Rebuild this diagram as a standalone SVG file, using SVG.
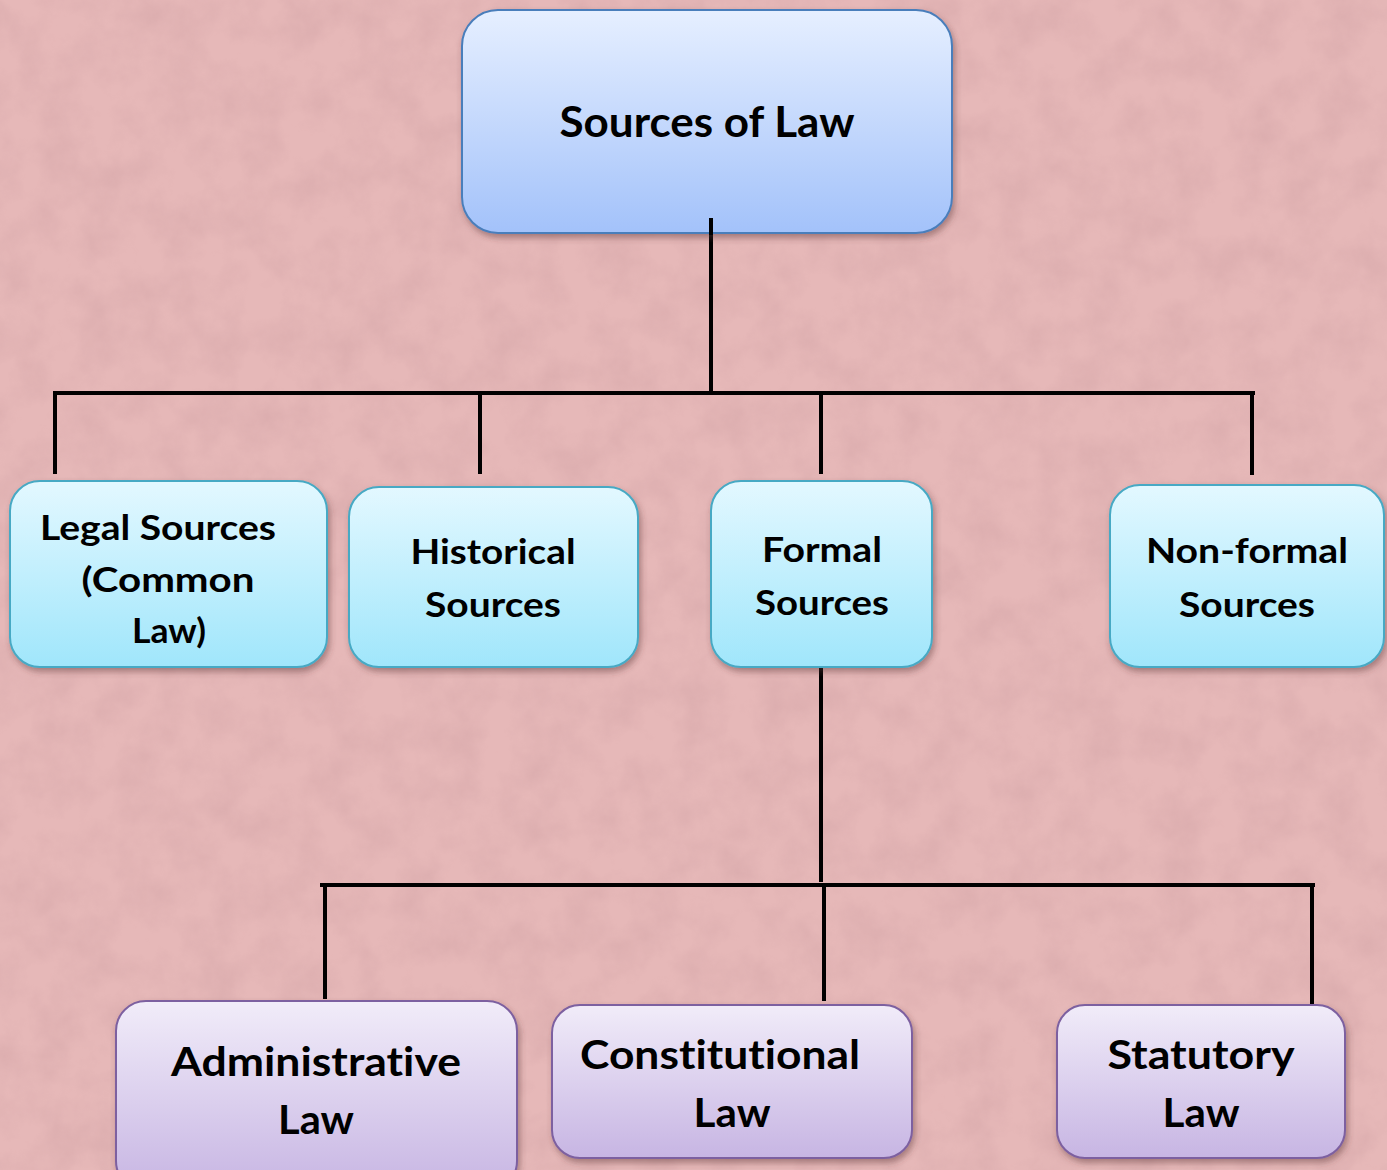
<svg xmlns="http://www.w3.org/2000/svg" width="1387" height="1170" viewBox="0 0 1387 1170">
  <defs>
    <linearGradient id="gTop" x1="0" y1="0" x2="0" y2="1">
      <stop offset="0" stop-color="#e6efff"/>
      <stop offset="1" stop-color="#a3c2fa"/>
    </linearGradient>
    <linearGradient id="gMid" x1="0" y1="0" x2="0" y2="1">
      <stop offset="0" stop-color="#e3f8ff"/>
      <stop offset="1" stop-color="#a0e6fb"/>
    </linearGradient>
    <linearGradient id="gLow" x1="0" y1="0" x2="0" y2="1">
      <stop offset="0" stop-color="#f1ecf9"/>
      <stop offset="1" stop-color="#c7b5e3"/>
    </linearGradient>
    <filter id="shadow" x="-10%" y="-10%" width="125%" height="130%">
      <feDropShadow dx="2" dy="4" stdDeviation="3" flood-color="#5a3030" flood-opacity="0.45"/>
    </filter>
    <!-- mottled paper texture -->
    <filter id="paper" x="0" y="0" width="100%" height="100%">
      <feTurbulence type="fractalNoise" baseFrequency="0.025" numOctaves="5" seed="7" result="n"/>
      <feColorMatrix in="n" type="matrix" values="0 0 0 0 0.55  0 0 0 0 0.3  0 0 0 0 0.32  0 0 0 -1.6 1.05"/>
    </filter>
    <style>
      .conn { stroke: #000; stroke-width: 4; fill: none; stroke-linecap: square; }
      .top { fill: url(#gTop); stroke: #4a7ebb; stroke-width: 2; filter: url(#shadow); }
      .mid { fill: url(#gMid); stroke: #46a9c4; stroke-width: 2; filter: url(#shadow); }
      .low { fill: url(#gLow); stroke: #7d60a0; stroke-width: 2; filter: url(#shadow); }
      text { font-family: Lato, "Open Sans", "Liberation Sans", sans-serif; font-weight: bold; fill: #000; text-anchor: middle; font-variant-ligatures: none; font-feature-settings: "liga" 0, "clig" 0; }
      .t1 { font-size: 42px; }
      .t2 { font-size: 35px; }
      .t3 { font-size: 40px; }
    </style>
  </defs>

  <!-- background -->
  <rect x="0" y="0" width="1387" height="1170" fill="#e6b8b8"/>
  <rect x="0" y="0" width="1387" height="1170" filter="url(#paper)" opacity="0.3"/>

  <!-- connectors -->
  <g id="connectors">
    <path class="conn" d="M711 220 V393"/>
    <path class="conn" d="M55 393 H1253"/>
    <path class="conn" d="M55 393 V472"/>
    <path class="conn" d="M480 393 V472"/>
    <path class="conn" d="M821 393 V472"/>
    <path class="conn" d="M1252 393 V473"/>
    <path class="conn" d="M821 667 V880"/>
    <path class="conn" d="M322 885 H1313"/>
    <path class="conn" d="M325 885 V997"/>
    <path class="conn" d="M824 885 V999"/>
    <path class="conn" d="M1312 885 V1005"/>
  </g>

  <!-- root -->
  <g id="sources-of-law">
    <rect class="top" x="462" y="10" width="490" height="223" rx="36"/>
    <path class="conn" d="M711 220 V233"/>
    <text class="t1" x="707" y="137" textLength="295" lengthAdjust="spacingAndGlyphs">Sources of Law</text>
  </g>

  <!-- second level -->
  <g id="legal-sources">
    <rect class="mid" x="10" y="481" width="317" height="186" rx="30"/>
    <text class="t2" x="158" y="540" textLength="236" lengthAdjust="spacingAndGlyphs">Legal Sources</text>
    <text class="t2" x="168" y="592" textLength="173" lengthAdjust="spacingAndGlyphs">(Common</text>
    <text class="t2" x="169" y="643" textLength="74" lengthAdjust="spacingAndGlyphs">Law)</text>
  </g>
  <g id="historical-sources">
    <rect class="mid" x="349" y="487" width="289" height="180" rx="30"/>
    <text class="t2" x="493" y="564" textLength="165" lengthAdjust="spacingAndGlyphs">Historical</text>
    <text class="t2" x="493" y="617" textLength="136" lengthAdjust="spacingAndGlyphs">Sources</text>
  </g>
  <g id="formal-sources">
    <rect class="mid" x="711" y="481" width="221" height="186" rx="30"/>
    <text class="t2" x="822" y="562" textLength="120" lengthAdjust="spacingAndGlyphs">Formal</text>
    <text class="t2" x="822" y="615" textLength="134" lengthAdjust="spacingAndGlyphs">Sources</text>
  </g>
  <g id="non-formal-sources">
    <rect class="mid" x="1110" y="485" width="274" height="182" rx="30"/>
    <text class="t2" x="1247" y="563" textLength="202" lengthAdjust="spacingAndGlyphs">Non-formal</text>
    <text class="t2" x="1247" y="617" textLength="136" lengthAdjust="spacingAndGlyphs">Sources</text>
  </g>

  <!-- third level -->
  <g id="administrative-law">
    <rect class="low" x="116" y="1001" width="401" height="190" rx="30"/>
    <text class="t3" x="316" y="1076" textLength="290" lengthAdjust="spacingAndGlyphs">Administrative</text>
    <text class="t3" x="316" y="1134" textLength="76" lengthAdjust="spacingAndGlyphs">Law</text>
  </g>
  <g id="constitutional-law">
    <rect class="low" x="552" y="1005" width="360" height="153" rx="28"/>
    <text class="t3" x="720" y="1069" textLength="280" lengthAdjust="spacingAndGlyphs">Constitutional</text>
    <text class="t3" x="732" y="1127" textLength="77" lengthAdjust="spacingAndGlyphs">Law</text>
  </g>
  <g id="statutory-law">
    <rect class="low" x="1057" y="1005" width="288" height="153" rx="28"/>
    <text class="t3" x="1201" y="1069" textLength="187" lengthAdjust="spacingAndGlyphs">Statutory</text>
    <text class="t3" x="1201" y="1127" textLength="77" lengthAdjust="spacingAndGlyphs">Law</text>
  </g>
</svg>
